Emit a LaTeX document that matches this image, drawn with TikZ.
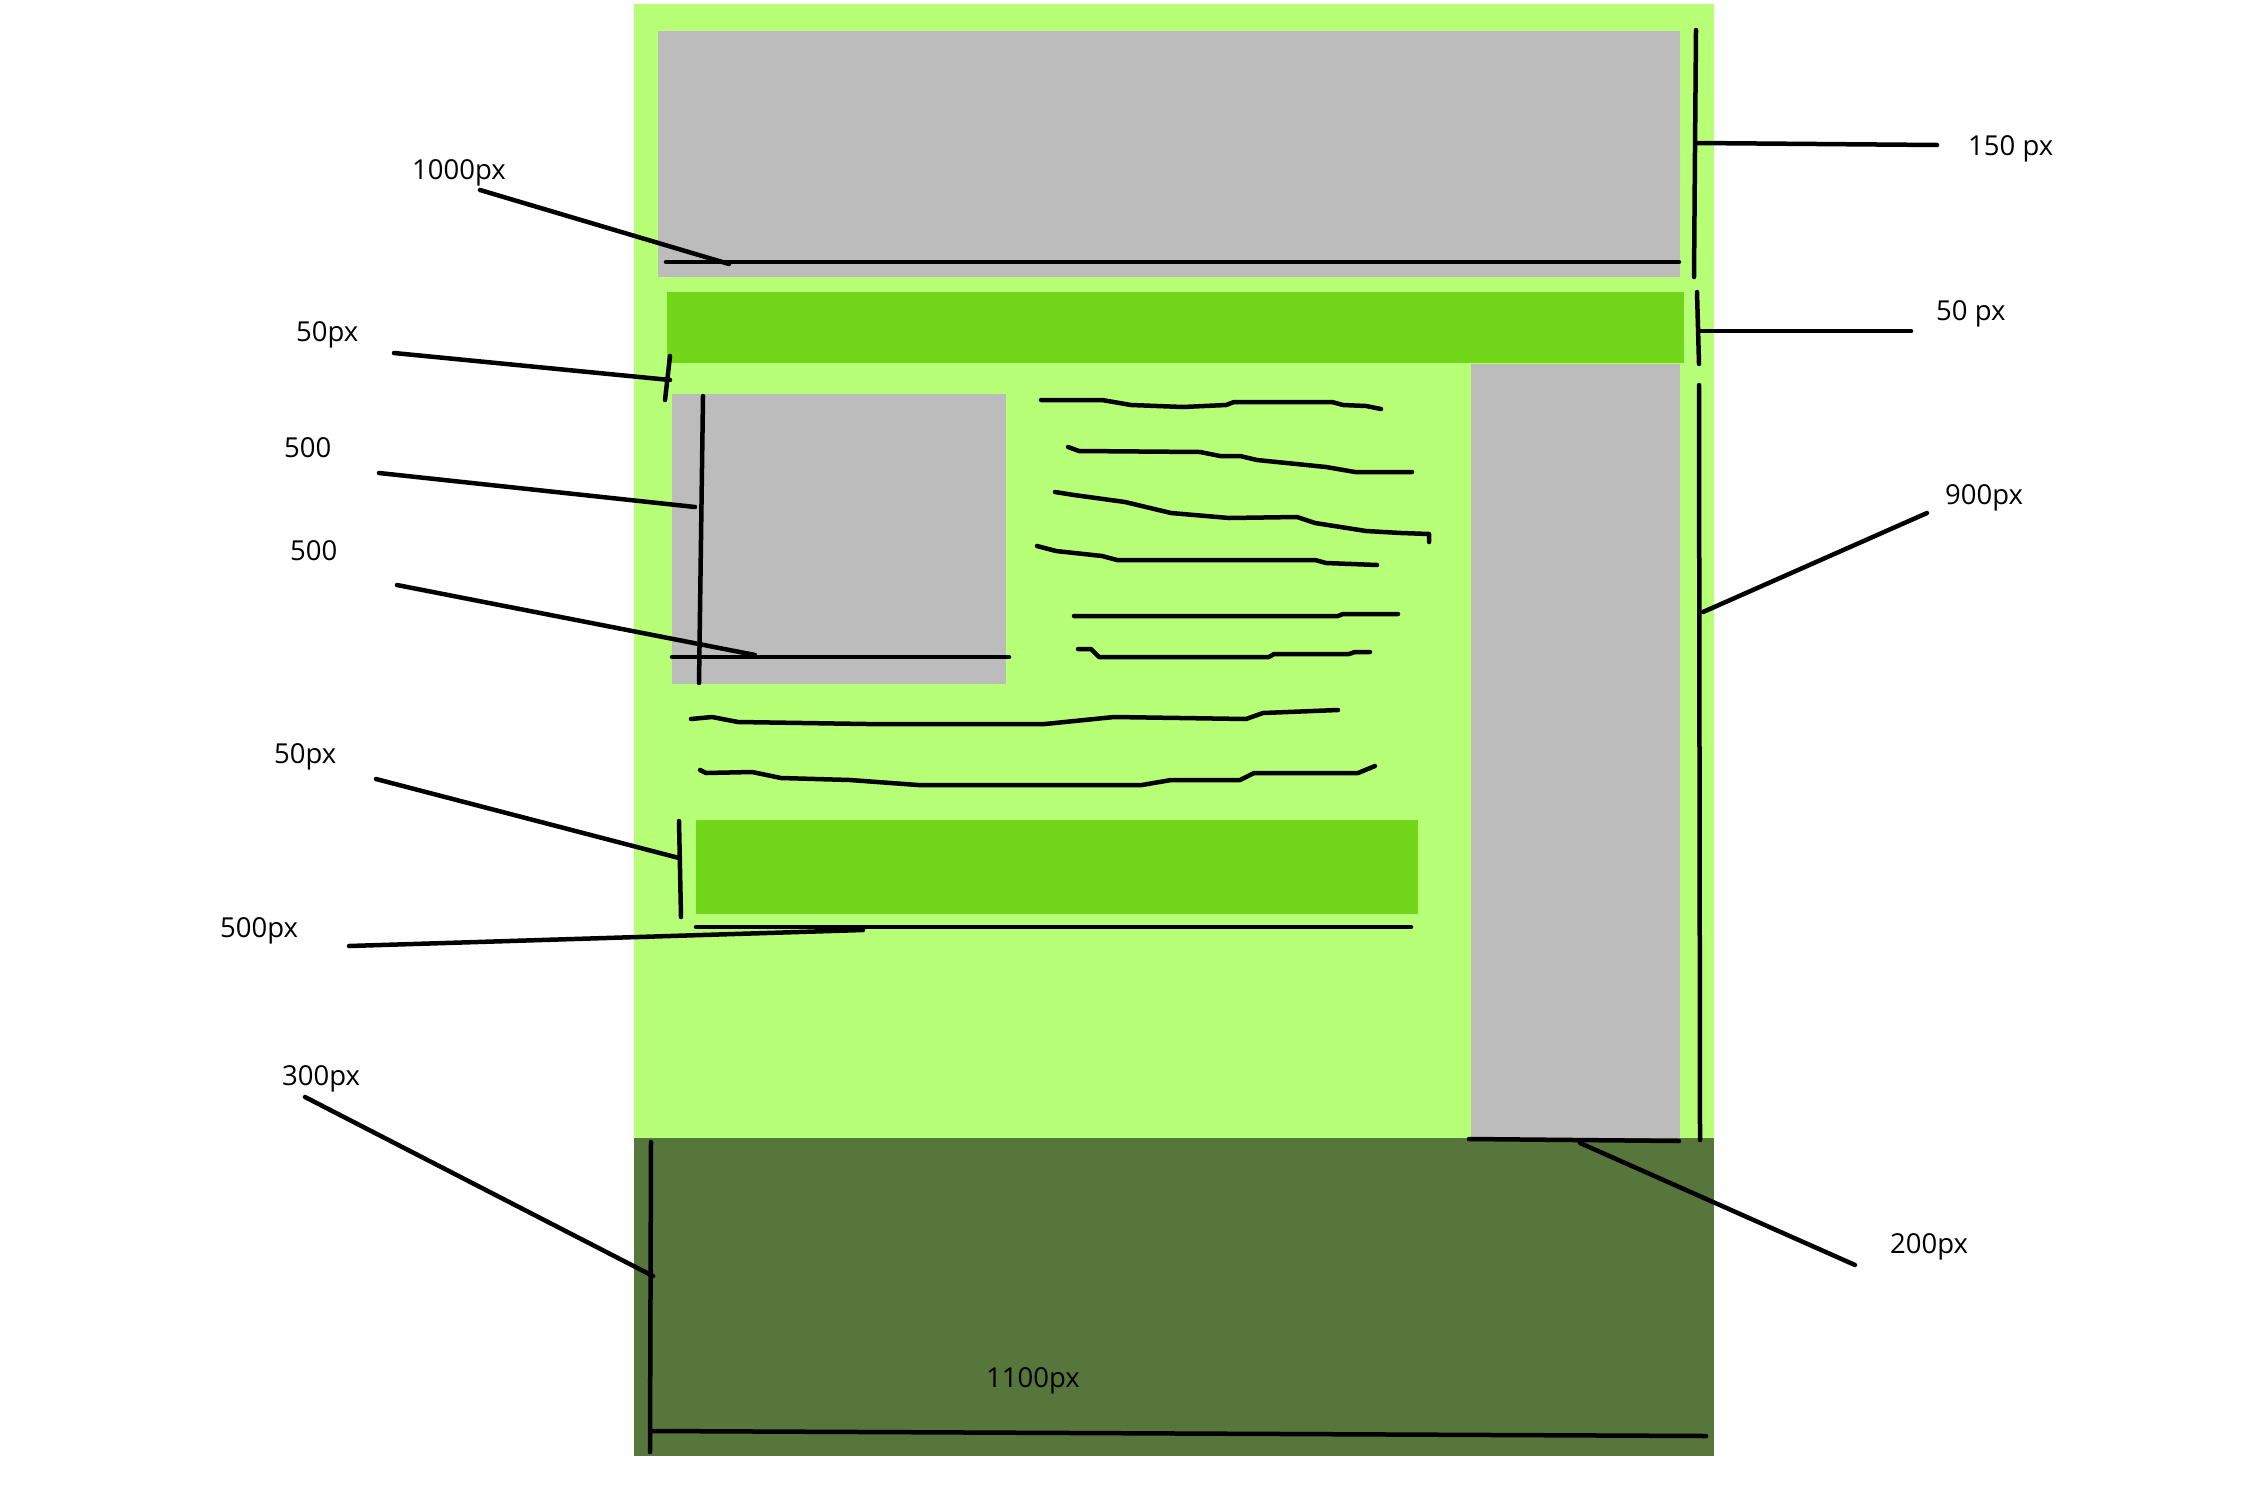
\documentclass[tikz,border=0pt]{standalone}
\usepackage{fontspec}
\setmainfont{Open Sans}
\definecolor{pagegreen}{RGB}{183,255,119}
\definecolor{navgreen}{RGB}{114,214,26}
\definecolor{boxgrey}{RGB}{188,188,188}
\definecolor{footgreen}{RGB}{87,118,59}
\begin{document}
\begin{tikzpicture}[x=1pt,y=-1pt,
  ink/.style={line width=4.5pt,line cap=round,line join=round,black},
  lbl/.style={inner sep=0pt,anchor=base west,font=\fontsize{27.5}{31}\selectfont}]
\useasboundingbox (0,0) rectangle (2246,1502);
\fill[white] (0,0) rectangle (2246,1502);
% blocks
\fill[pagegreen] (634,4) rectangle (1714,1138);
\fill[footgreen] (634,1138) rectangle (1714,1456);
\fill[boxgrey] (658,31) rectangle (1680,277);
\fill[navgreen] (667,292) rectangle (1684,363);
\fill[boxgrey] (1471,364) rectangle (1680,1138);
\fill[boxgrey] (672,394) rectangle (1006,684);
\fill[navgreen] (696,820) rectangle (1418,914);
% header width
\draw[ink] (666,262) -- (1679,262);
\draw[ink] (480,190) -- (729,264);
\node[lbl] (l1000) at (412,179) {1000px};
% right 150
\draw[ink] (1696,30) -- (1695,150) -- (1694,277);
\draw[ink] (1697,143) -- (1937,145);
\node[lbl] (l150) at (1968,155) {150 px};
% right 50
\draw[ink] (1697,292) -- (1699,364);
\draw[ink] (1699,331) -- (1911,331);
\node[lbl] (l50r) at (1936,320) {50 px};
% right 900
\draw[ink] (1699,385) -- (1700,1140);
\draw[ink] (1703,612) -- (1927,513);
\node[lbl] (l900) at (1945,504) {900px};
% 200
\draw[ink] (1469,1139) -- (1679,1141);
\draw[ink] (1580,1143) -- (1855,1265);
\node[lbl] (l200) at (1890,1253) {200px};
% footer
\draw[ink] (651,1142) -- (650,1452);
\draw[ink] (651,1431) -- (1706,1436);
\node[lbl] (l1100) at (986,1387) {1100px};
\draw[ink] (305,1097) -- (653,1276);
\node[lbl] (l300) at (282,1085) {300px};
% button width
\draw[ink] (696,927) -- (1411,927);
\draw[ink] (349,946) -- (863,930);
\node[lbl] (l500px) at (220,937) {500px};
% button height
\draw[ink] (679,821) -- (681,917);
\draw[ink] (376,779) -- (679,858);
\node[lbl] (l50b) at (274,763) {50px};
% image box
\draw[ink] (703,396) -- (699,683);
\draw[ink] (672,657) -- (1009,657);
\draw[ink] (379,473) -- (695,507);
\node[lbl] (l500a) at (284,457) {500};
\draw[ink] (397,585) -- (755,655);
\node[lbl] (l500b) at (290,560) {500};
% nav gap
\draw[ink] (670,356) -- (665,400);
\draw[ink] (394,353) -- (670,380);
\node[lbl] (l50n) at (296,341) {50px};
% squiggles
\draw[ink] (1041,400) -- (1102,400) -- (1131,405) -- (1183,407) -- (1226,405) -- (1234,402) -- (1332,402) -- (1343,405) -- (1366,406) -- (1381,409);
\draw[ink] (1068,447) -- (1079,451) -- (1200,452) -- (1220,456) -- (1240,456) -- (1257,460) -- (1326,467) -- (1355,472) -- (1412,472);
\draw[ink] (1055,492) -- (1074,495) -- (1125,502) -- (1171,513) -- (1229,518) -- (1297,517) -- (1315,523) -- (1366,531) -- (1401,533) -- (1429,534) -- (1429,542);
\draw[ink] (1037,546) -- (1056,551) -- (1102,556) -- (1117,560) -- (1315,560) -- (1326,563) -- (1377,565);
\draw[ink] (1074,616) -- (1338,616) -- (1343,614) -- (1398,614);
\draw[ink] (1078,649) -- (1091,649) -- (1099,657) -- (1269,657) -- (1274,654) -- (1349,654) -- (1355,652) -- (1370,652);
\draw[ink] (691,719) -- (712,717) -- (738,722) -- (867,724) -- (1045,724) -- (1114,717) -- (1246,719) -- (1263,713) -- (1338,710);
\draw[ink] (700,770) -- (706,773) -- (752,772) -- (781,778) -- (850,780) -- (918,785) -- (1142,785) -- (1171,780) -- (1240,780) -- (1254,773) -- (1358,773) -- (1375,766);
\end{tikzpicture}
\end{document}
